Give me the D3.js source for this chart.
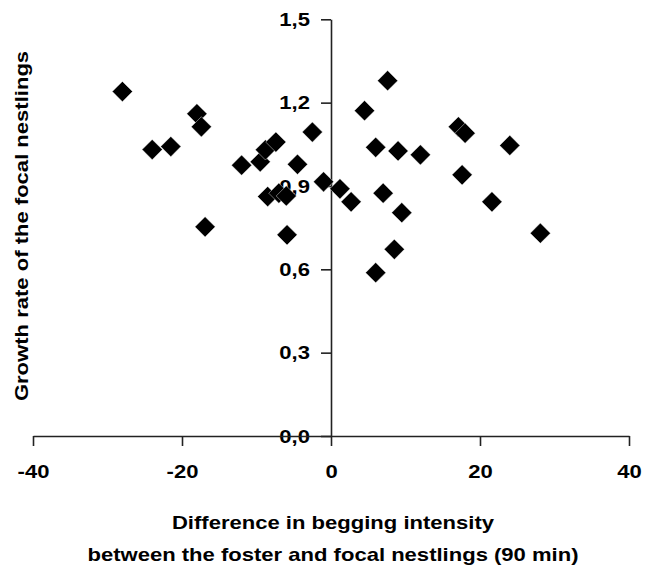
<!DOCTYPE html>
<html>
<head>
<meta charset="utf-8">
<script src="https://cdn.jsdelivr.net/npm/d3@7"></script>
<style>
  body { margin: 0; background: #fff; }
  text { font-family: "Liberation Sans", Arial, sans-serif; font-weight: bold; fill: #000; }
</style>
</head>
<body>
<div id="chart-area"></div>
<script>
// begging intensity difference (x) and growth rate (y)
const diffValues = [-28.0, -24.0, -21.5, -18.0, -17.4, -16.9, -12.0, -9.5, -8.8, -7.4,
    -8.5, -7.0, -6.0, -5.9, -4.5, -2.5, -1.0, 1.2, 2.7, 4.5,
    6.0, 6.0, 7.0, 7.6, 8.5, 9.0, 9.5, 12.0, 17.1, 18.0,
    17.6, 21.6, 24.0, 28.1];
const growthValues = [1.240, 1.031, 1.042, 1.160, 1.113, 0.753, 0.975, 0.987, 1.030, 1.058,
    0.862, 0.874, 0.864, 0.724, 0.978, 1.094, 0.915, 0.890, 0.843, 1.171,
    1.039, 0.588, 0.874, 1.279, 0.672, 1.026, 0.804, 1.012, 1.113, 1.090,
    0.940, 0.843, 1.046, 0.730];
const xTicks = [-40, -20, 0, 20, 40];
const yTicks = [0, 0.3, 0.6, 0.9, 1.2, 1.5];
const xTitle = ["Difference in begging intensity", "between the foster and focal nestlings (90 min)"];
const yTitle = "Growth rate of the focal nestlings";

const points = diffValues.map((d, i) => ({ x: d, y: growthValues[i] }));

const svg = d3.select('#chart-area')
    .append('svg')
    .attr('width', 645)
    .attr('height', 566);

// scales
const x = d3.scaleLinear().domain([-40, 40]).range([33, 629]);
const y = d3.scaleLinear().domain([0, 1.5]).range([436, 19.3]);

const fmt = d => d.toFixed(1).replace('.', ',');

// Y axis through x = 0
svg.append("g")
    .attr("transform", "translate(" + x(0) + ",0)")
    .call(d3.axisLeft(y).tickValues(yTicks).tickFormat(fmt).tickSize(10).tickSizeOuter(0).tickPadding(11));

// X axis through y = 0 (plain hyphen for negatives, like the original)
svg.append("g")
    .attr("transform", "translate(0," + y(0) + ")")
    .call(d3.axisBottom(x).tickValues(xTicks).tickFormat(d => String(d)).tickSize(10).tickSizeOuter(0).tickPadding(19));

svg.selectAll(".domain, .tick line")
    .attr("stroke", "#222")
    .attr("stroke-width", 1.6);
svg.selectAll(".tick text")
    .style("font-size", "19px")
    .style("font-family", "'Liberation Sans', Arial, sans-serif")
    .style("font-weight", "bold");

// points
svg.append("g")
    .selectAll("path")
    .data(points)
    .join("path")
    .attr("d", d3.symbol().type(d3.symbolSquare).size(205))
    .attr("transform", d => "translate(" + x(d.x) + "," + y(d.y) + ") rotate(45)")
    .attr("fill", "#000")
    .attr("stroke", "#fff")
    .attr("stroke-width", 0.4);

// titles
svg.append("g")
    .selectAll("text")
    .data(xTitle)
    .join("text")
    .attr("x", 333)
    .attr("y", (d, i) => 529 + i * 32)
    .attr("text-anchor", "middle")
    .style("font-size", "19px")
    .text(d => d);

svg.append("text")
    .attr("transform", "translate(28,226) rotate(-90)")
    .attr("text-anchor", "middle")
    .style("font-size", "19px")
    .text(yTitle);

// the original lettering is a bit wider than Liberation Sans
svg.selectAll("text").each(function () {
    const len = this.getComputedTextLength();
    d3.select(this)
        .attr("textLength", len * 1.16)
        .attr("lengthAdjust", "spacingAndGlyphs");
});
</script>
</body>
</html>
